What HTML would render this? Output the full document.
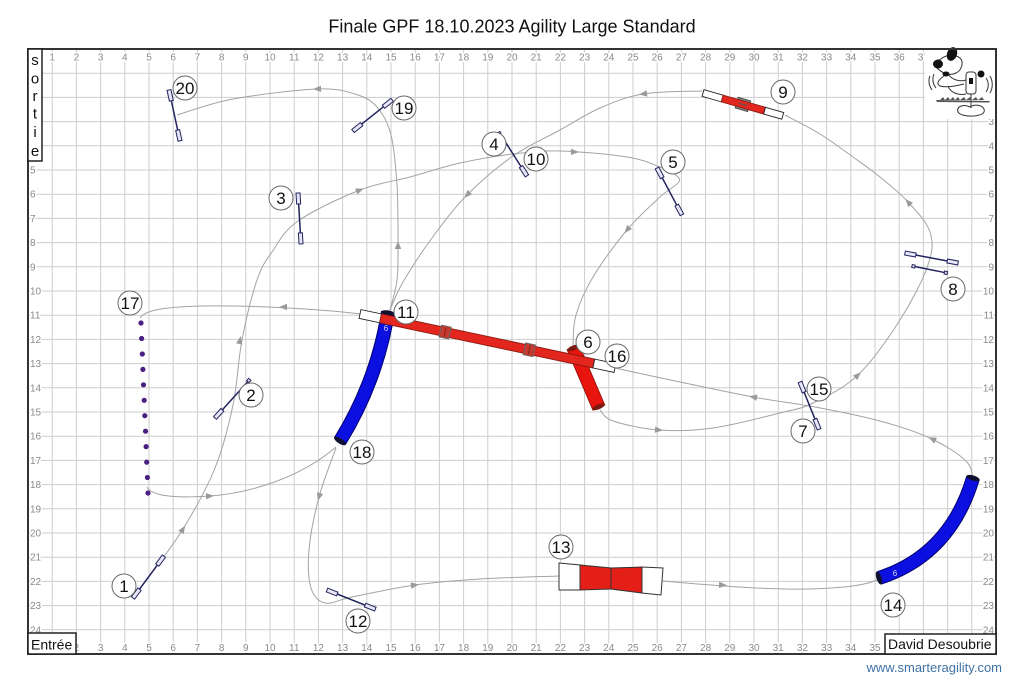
<!DOCTYPE html>
<html><head><meta charset="utf-8">
<style>
html,body{margin:0;padding:0;background:#fff;}
svg{display:block;}
.lbl{font-family:"Liberation Sans",Arial,sans-serif;font-size:10px;fill:#8a8a8a;stroke:#fff;stroke-width:3px;paint-order:stroke;}
.p{fill:none;stroke:#a3a3a3;stroke-width:1;}
.ar{fill:#9a9a9a;}
.j line{stroke:#23235f;stroke-width:1.5;}
.j rect{fill:#e6e6f6;stroke:#23235f;stroke-width:1;}
.c circle{fill:#fff;stroke:#6a6a6a;stroke-width:1;}
.c text{font-family:"Liberation Sans",Arial,sans-serif;font-size:17px;fill:#111;text-anchor:middle;}
.t{font-family:"Liberation Sans",Arial,sans-serif;}
</style></head>
<body>
<svg width="1024" height="694" viewBox="0 0 1024 694" xmlns="http://www.w3.org/2000/svg">
<rect width="1024" height="694" fill="#fff"/>
<!-- grid -->
<g stroke="#cdcdcd" stroke-width="1">
<line x1="52.2" y1="49" x2="52.2" y2="654"/><line x1="76.4" y1="49" x2="76.4" y2="654"/><line x1="100.6" y1="49" x2="100.6" y2="654"/><line x1="124.8" y1="49" x2="124.8" y2="654"/><line x1="149" y1="49" x2="149" y2="654"/><line x1="173.2" y1="49" x2="173.2" y2="654"/><line x1="197.4" y1="49" x2="197.4" y2="654"/><line x1="221.6" y1="49" x2="221.6" y2="654"/><line x1="245.8" y1="49" x2="245.8" y2="654"/><line x1="270" y1="49" x2="270" y2="654"/><line x1="294.2" y1="49" x2="294.2" y2="654"/><line x1="318.4" y1="49" x2="318.4" y2="654"/><line x1="342.6" y1="49" x2="342.6" y2="654"/><line x1="366.8" y1="49" x2="366.8" y2="654"/><line x1="391" y1="49" x2="391" y2="654"/><line x1="415.2" y1="49" x2="415.2" y2="654"/><line x1="439.4" y1="49" x2="439.4" y2="654"/><line x1="463.6" y1="49" x2="463.6" y2="654"/><line x1="487.8" y1="49" x2="487.8" y2="654"/><line x1="512" y1="49" x2="512" y2="654"/><line x1="536.2" y1="49" x2="536.2" y2="654"/><line x1="560.4" y1="49" x2="560.4" y2="654"/><line x1="584.6" y1="49" x2="584.6" y2="654"/><line x1="608.8" y1="49" x2="608.8" y2="654"/><line x1="633" y1="49" x2="633" y2="654"/><line x1="657.2" y1="49" x2="657.2" y2="654"/><line x1="681.4" y1="49" x2="681.4" y2="654"/><line x1="705.6" y1="49" x2="705.6" y2="654"/><line x1="729.8" y1="49" x2="729.8" y2="654"/><line x1="754" y1="49" x2="754" y2="654"/><line x1="778.2" y1="49" x2="778.2" y2="654"/><line x1="802.4" y1="49" x2="802.4" y2="654"/><line x1="826.6" y1="49" x2="826.6" y2="654"/><line x1="850.8" y1="49" x2="850.8" y2="654"/><line x1="875" y1="49" x2="875" y2="654"/><line x1="899.2" y1="49" x2="899.2" y2="654"/><line x1="923.4" y1="49" x2="923.4" y2="654"/><line x1="947.6" y1="49" x2="947.6" y2="654"/><line x1="971.8" y1="49" x2="971.8" y2="654"/>
<line x1="28" y1="73.2" x2="996" y2="73.2"/><line x1="28" y1="97.4" x2="996" y2="97.4"/><line x1="28" y1="121.6" x2="996" y2="121.6"/><line x1="28" y1="145.8" x2="996" y2="145.8"/><line x1="28" y1="170" x2="996" y2="170"/><line x1="28" y1="194.2" x2="996" y2="194.2"/><line x1="28" y1="218.4" x2="996" y2="218.4"/><line x1="28" y1="242.6" x2="996" y2="242.6"/><line x1="28" y1="266.8" x2="996" y2="266.8"/><line x1="28" y1="291" x2="996" y2="291"/><line x1="28" y1="315.2" x2="996" y2="315.2"/><line x1="28" y1="339.4" x2="996" y2="339.4"/><line x1="28" y1="363.6" x2="996" y2="363.6"/><line x1="28" y1="387.8" x2="996" y2="387.8"/><line x1="28" y1="412" x2="996" y2="412"/><line x1="28" y1="436.2" x2="996" y2="436.2"/><line x1="28" y1="460.4" x2="996" y2="460.4"/><line x1="28" y1="484.6" x2="996" y2="484.6"/><line x1="28" y1="508.8" x2="996" y2="508.8"/><line x1="28" y1="533" x2="996" y2="533"/><line x1="28" y1="557.2" x2="996" y2="557.2"/><line x1="28" y1="581.4" x2="996" y2="581.4"/><line x1="28" y1="605.6" x2="996" y2="605.6"/><line x1="28" y1="629.8" x2="996" y2="629.8"/>
</g>
<!-- top labels -->
<g class="lbl" text-anchor="middle">
<text x="52.2" y="60.5">1</text><text x="76.4" y="60.5">2</text><text x="100.6" y="60.5">3</text><text x="124.8" y="60.5">4</text><text x="149" y="60.5">5</text><text x="173.2" y="60.5">6</text><text x="197.4" y="60.5">7</text><text x="221.6" y="60.5">8</text><text x="245.8" y="60.5">9</text><text x="270" y="60.5">10</text><text x="294.2" y="60.5">11</text><text x="318.4" y="60.5">12</text><text x="342.6" y="60.5">13</text><text x="366.8" y="60.5">14</text><text x="391" y="60.5">15</text><text x="415.2" y="60.5">16</text><text x="439.4" y="60.5">17</text><text x="463.6" y="60.5">18</text><text x="487.8" y="60.5">19</text><text x="512" y="60.5">20</text><text x="536.2" y="60.5">21</text><text x="560.4" y="60.5">22</text><text x="584.6" y="60.5">23</text><text x="608.8" y="60.5">24</text><text x="633" y="60.5">25</text><text x="657.2" y="60.5">26</text><text x="681.4" y="60.5">27</text><text x="705.6" y="60.5">28</text><text x="729.8" y="60.5">29</text><text x="754" y="60.5">30</text><text x="778.2" y="60.5">31</text><text x="802.4" y="60.5">32</text><text x="826.6" y="60.5">33</text><text x="850.8" y="60.5">34</text><text x="875" y="60.5">35</text><text x="899.2" y="60.5">36</text><text x="923.4" y="60.5">37</text>
</g>
<!-- bottom labels -->
<g class="lbl" text-anchor="middle">
<text x="52.2" y="651">1</text><text x="76.4" y="651">2</text><text x="100.6" y="651">3</text><text x="124.8" y="651">4</text><text x="149" y="651">5</text><text x="173.2" y="651">6</text><text x="197.4" y="651">7</text><text x="221.6" y="651">8</text><text x="245.8" y="651">9</text><text x="270" y="651">10</text><text x="294.2" y="651">11</text><text x="318.4" y="651">12</text><text x="342.6" y="651">13</text><text x="366.8" y="651">14</text><text x="391" y="651">15</text><text x="415.2" y="651">16</text><text x="439.4" y="651">17</text><text x="463.6" y="651">18</text><text x="487.8" y="651">19</text><text x="512" y="651">20</text><text x="536.2" y="651">21</text><text x="560.4" y="651">22</text><text x="584.6" y="651">23</text><text x="608.8" y="651">24</text><text x="633" y="651">25</text><text x="657.2" y="651">26</text><text x="681.4" y="651">27</text><text x="705.6" y="651">28</text><text x="729.8" y="651">29</text><text x="754" y="651">30</text><text x="778.2" y="651">31</text><text x="802.4" y="651">32</text><text x="826.6" y="651">33</text><text x="850.8" y="651">34</text><text x="875" y="651">35</text><text x="899.2" y="651">36</text>
</g>
<!-- left labels -->
<g class="lbl" text-anchor="start">
<text x="30" y="76.7">1</text><text x="30" y="100.9">2</text><text x="30" y="125.1">3</text><text x="30" y="149.3">4</text><text x="30" y="173.5">5</text><text x="30" y="197.7">6</text><text x="30" y="221.9">7</text><text x="30" y="246.1">8</text><text x="30" y="270.3">9</text><text x="30" y="294.5">10</text><text x="30" y="318.7">11</text><text x="30" y="342.9">12</text><text x="30" y="367.1">13</text><text x="30" y="391.3">14</text><text x="30" y="415.5">15</text><text x="30" y="439.7">16</text><text x="30" y="463.9">17</text><text x="30" y="488.1">18</text><text x="30" y="512.3">19</text><text x="30" y="536.5">20</text><text x="30" y="560.7">21</text><text x="30" y="584.9">22</text><text x="30" y="609.1">23</text><text x="30" y="633.3">24</text>
</g>
<!-- right labels -->
<g class="lbl" text-anchor="end">
<text x="994" y="76.7">1</text><text x="994" y="100.9">2</text><text x="994" y="125.1">3</text><text x="994" y="149.3">4</text><text x="994" y="173.5">5</text><text x="994" y="197.7">6</text><text x="994" y="221.9">7</text><text x="994" y="246.1">8</text><text x="994" y="270.3">9</text><text x="994" y="294.5">10</text><text x="994" y="318.7">11</text><text x="994" y="342.9">12</text><text x="994" y="367.1">13</text><text x="994" y="391.3">14</text><text x="994" y="415.5">15</text><text x="994" y="439.7">16</text><text x="994" y="463.9">17</text><text x="994" y="488.1">18</text><text x="994" y="512.3">19</text><text x="994" y="536.5">20</text><text x="994" y="560.7">21</text><text x="994" y="584.9">22</text><text x="994" y="609.1">23</text><text x="994" y="633.3">24</text>
</g>

<!-- dog area -->
<rect x="925" y="50" width="70" height="69" fill="#fff"/>
<g fill="none" stroke="#333" stroke-width="1">
<path d="M935,66 C940,56 952,52 960,58 C964,62 962,70 956,73 C950,76 942,74 935,66 Z" fill="#fff"/>
<path d="M948,74 C952,80 960,82 966,80 M944,76 C938,80 936,84 940,86 C946,88 956,86 964,84"/>
<path d="M930,76 C928,80 929,86 932,90 M934,74 C932,79 933,84 936,88 M986,78 C989,82 989,88 986,92 M990,76 C993,81 993,88 990,93"/>
<rect x="966" y="72" width="10" height="22" rx="3" fill="#fff"/>
<path d="M971,94 L971,108"/>
<path d="M958,112 C956,106 964,104 970,107 C976,103 986,106 984,112 C982,117 962,118 958,112 Z"/>
<path d="M948,86 C950,92 958,96 966,94"/>
</g>
<g fill="#111">
<ellipse cx="938" cy="64" rx="5" ry="4.5"/>
<ellipse cx="952" cy="54" rx="5" ry="7" transform="rotate(20 952 54)"/>
<ellipse cx="946" cy="74" rx="3.5" ry="2.5"/>
<circle cx="981" cy="74" r="3.5"/>
<rect x="969" y="78" width="4" height="6"/>
</g>
<g fill="#555">
<path d="M936,100 L990,101 L989,102.5 L937,102 Z"/>
<path d="M940,100 l3,-3 l2,3 l3,-3 l2,3 l3,-3 l2,3 l3,-3 l2,3 l4,-3 l2,3 l4,-3 l2,3 l4,-3 l2,3 l4,-3 l2,3 z"/>
</g>

<!-- paths -->
<g class="p">
<path d="M148,578 C153.8,569.8 171.8,547.3 183,529 C194.2,510.7 206.7,488.7 215,468 C223.3,447.3 228.5,426.3 233,405 C237.5,383.7 238,360.8 242,340 C246,319.2 252,294.7 257,280 C262,265.3 265.2,261.8 272,252 C278.8,242.2 283.3,231.3 298,221 C312.7,210.7 341.3,197.3 360,190 C378.7,182.7 393.3,181.5 410,177 C426.7,172.5 442.8,166.8 460,163 C477.2,159.2 496.3,156 513,154 C529.7,152 541,150.5 560,151 C579,151.5 610.3,154.3 627,157 C643.7,159.7 651.7,163.8 660,167 C668.3,170.2 674,173.3 677,176 C680,178.7 680.8,179.5 678,183 C675.2,186.5 668.5,189.2 660,197 C651.5,204.8 638.2,216.7 627,230 C615.8,243.3 601.5,262.8 593,277 C584.5,291.2 579.3,303.7 576,315 C572.7,326.3 573.5,340 573,345"/>
<path d="M600,410 C602.2,411.8 603.2,417.7 613,421 C622.8,424.3 642.3,428.8 659,430 C675.7,431.2 692.8,430.8 713,428 C733.2,425.2 763.3,417.2 780,413 C796.7,408.8 800,409.3 813,403 C826,396.7 843.5,388.8 858,375 C872.5,361.2 888.3,338.3 900,320 C911.7,301.7 923,279.7 928,265 C933,250.3 933.3,242.5 930,232 C926.7,221.5 916.3,211.2 908,202 C899.7,192.8 889.2,184.5 880,177 C870.8,169.5 863,164.2 853,157 C843,149.8 831.3,141 820,134 C808.7,127 790.8,118.2 785,115"/>
<path d="M702,91 C692.2,91.5 660,91.2 643,94 C626,96.8 613.8,102 600,108 C586.2,114 574.5,122 560,130 C545.5,138 528.5,145.2 513,156 C497.5,166.8 480.5,181.3 467,195 C453.5,208.7 442.7,223.5 432,238 C421.3,252.5 410,270 403,282 C396,294 392.2,305.3 390,310"/>
<path d="M336,448 C333.2,456.2 323.5,480 319,497 C314.5,514 310.3,534.8 309,550 C307.7,565.2 308.3,579.2 311,588 C313.7,596.8 318.2,601.5 325,603 C331.8,604.5 337,600 352,597 C367,594 393.7,588 415,585 C436.3,582 456,580.5 480,579 C504,577.5 545.8,576.5 559,576"/>
<path d="M663,581 C700,584 760,590 810,589 C840,588 865,586 879,579"/>
<path d="M973,479 C971.8,476 972.8,467.7 966,461 C959.2,454.3 946.3,445.7 932,439 C917.7,432.3 899.5,426.3 880,421 C860.5,415.7 836.2,411 815,407 C793.8,403 775.5,401.2 753,397 C730.5,392.8 703,386.8 680,382 C657,377.2 625.8,370.3 615,368"/>
<path d="M360,314 C320,309 250,305 200,306 C165,307 145,310 140,318"/>
<path d="M147,487 C152,497 180,498 210,496 C250,493 300,478 336,447"/>
<path d="M390,310 C391.2,305 395.7,290.8 397,280 C398.3,269.2 398,260.8 398,245 C398,229.2 398.2,203.3 397,185 C395.8,166.7 394.3,148 391,135 C387.7,122 383,113.8 377,107 C371,100.2 365,97 355,94 C345,91 337.3,88.2 317,89 C296.7,89.8 256.3,94.7 233,99 C209.7,103.3 186.3,112.3 177,115"/>
</g>
<!-- arrows -->
<g class="ar">
<polygon points="-4,-3.2 4,0 -4,3.2" transform="translate(183,529) rotate(-58)"/>
<polygon points="-4,-3.2 4,0 -4,3.2" transform="translate(240,340) rotate(-80)"/>
<polygon points="-4,-3.2 4,0 -4,3.2" transform="translate(360,190) rotate(-21)"/>
<polygon points="-4,-3.2 4,0 -4,3.2" transform="translate(575,152) rotate(2)"/>
<polygon points="-4,-3.2 4,0 -4,3.2" transform="translate(627,230) rotate(130)"/>
<polygon points="-4,-3.2 4,0 -4,3.2" transform="translate(659,430) rotate(4)"/>
<polygon points="-4,-3.2 4,0 -4,3.2" transform="translate(858,375) rotate(-44)"/>
<polygon points="-4,-3.2 4,0 -4,3.2" transform="translate(908,202) rotate(-132)"/>
<polygon points="-4,-3.2 4,0 -4,3.2" transform="translate(643,94) rotate(172)"/>
<polygon points="-4,-3.2 4,0 -4,3.2" transform="translate(467,195) rotate(135)"/>
<polygon points="-4,-3.2 4,0 -4,3.2" transform="translate(319,497) rotate(105)"/>
<polygon points="-4,-3.2 4,0 -4,3.2" transform="translate(415,585) rotate(-8)"/>
<polygon points="-4,-3.2 4,0 -4,3.2" transform="translate(723,585) rotate(3)"/>
<polygon points="-4,-3.2 4,0 -4,3.2" transform="translate(932,439) rotate(205)"/>
<polygon points="-4,-3.2 4,0 -4,3.2" transform="translate(753,397) rotate(190)"/>
<polygon points="-4,-3.2 4,0 -4,3.2" transform="translate(283,307) rotate(180)"/>
<polygon points="-4,-3.2 4,0 -4,3.2" transform="translate(210,496) rotate(-2)"/>
<polygon points="-4,-3.2 4,0 -4,3.2" transform="translate(398,245) rotate(-90)"/>
<polygon points="-4,-3.2 4,0 -4,3.2" transform="translate(317,89) rotate(178)"/>
</g>

<!-- blue tunnels -->
<path d="M388,312 Q377,381 340,441" fill="none" stroke="#00006e" stroke-width="14"/>
<path d="M388,312 Q377,381 340,441" fill="none" stroke="#0b0fe0" stroke-width="12"/>
<ellipse cx="388" cy="313" rx="6.8" ry="2.6" fill="#101030" transform="rotate(9 388 313)"/>
<ellipse cx="340" cy="441" rx="6.8" ry="2.6" fill="#101030" transform="rotate(32 340 441)"/>
<text x="386" y="331" class="t" font-size="8" fill="#dde" text-anchor="middle">6</text>

<path d="M879,578 Q950,555 973,478" fill="none" stroke="#00006e" stroke-width="14"/>
<path d="M879,578 Q950,555 973,478" fill="none" stroke="#0b0fe0" stroke-width="12"/>
<ellipse cx="879" cy="578" rx="6.8" ry="2.6" fill="#101030" transform="rotate(72 879 578)"/>
<ellipse cx="973" cy="478" rx="6.8" ry="2.6" fill="#101030" transform="rotate(17 973 478)"/>
<text x="895" y="576" class="t" font-size="8" fill="#dde" text-anchor="middle">6</text>

<!-- red tube 6 -->
<g transform="translate(573,347) rotate(66.9)">
<rect x="0" y="-6.5" width="66" height="13" fill="#e8150f" stroke="#8a0d08" stroke-width="0.8"/>
<ellipse cx="1" cy="0" rx="2.5" ry="6.5" fill="#7a1a10"/>
<ellipse cx="65" cy="0" rx="2.5" ry="6.5" fill="#7a1a10"/>
</g>

<!-- dog walk -->
<g transform="translate(360,314) rotate(11.96)" stroke-width="0.9">
<rect x="0" y="-4.5" width="21" height="9" fill="#fff" stroke="#222"/>
<rect x="21" y="-4.5" width="218" height="9" fill="#e3261e" stroke="#8a1a12"/>
<rect x="239" y="-4.5" width="21.6" height="9" fill="#fff" stroke="#222"/>
<rect x="82" y="-6" width="10" height="12" fill="#c23a30" stroke="#666"/>
<rect x="168" y="-6" width="10" height="12" fill="#c23a30" stroke="#666"/>
<line x1="87" y1="-4.5" x2="87" y2="4.5" stroke="#8a1a12"/>
<line x1="173" y1="-4.5" x2="173" y2="4.5" stroke="#8a1a12"/>
</g>

<!-- seesaw 9 -->
<g transform="translate(703,93) rotate(16)" stroke-width="0.9">
<rect x="35" y="-5.5" width="13" height="11" fill="#888" stroke="#444"/>
<rect x="0" y="-3.5" width="20" height="7" fill="#fff" stroke="#222"/>
<rect x="20" y="-3.5" width="44" height="7" fill="#e3261e" stroke="#8a1a12"/>
<rect x="64" y="-3.5" width="19" height="7" fill="#fff" stroke="#222"/>
<line x1="37" y1="0" x2="46" y2="0" stroke="#555" stroke-width="1.2"/>
</g>

<!-- item 13 -->
<g stroke="#333" stroke-width="1">
<polygon points="559,563 580,565 580,590 559,590" fill="#fff"/>
<polygon points="580,565 611,568 611,589 580,590" fill="#e41f18"/>
<polygon points="611,568 642,567 642,593 611,589" fill="#e41f18"/>
<polygon points="642,567 663,568 661,595 642,593" fill="#fff"/>
</g>

<!-- jumps -->
<g class="j">
<g transform="translate(169,90) rotate(77.8)"><line x2="52"/><rect x="0" y="-2" width="11" height="4"/><rect x="41" y="-2" width="11" height="4"/></g>
<g transform="translate(353,131) rotate(-38.5)"><line x2="50"/><rect x="0" y="-2" width="11" height="4"/><rect x="39" y="-2" width="11" height="4"/></g>
<g transform="translate(298,193) rotate(86.6)"><line x2="51"/><rect x="0" y="-2" width="11" height="4"/><rect x="40" y="-2" width="11" height="4"/></g>
<g transform="translate(499,132) rotate(57.5)"><line x2="52"/><rect x="0" y="-1" width="2" height="2"/><rect x="41" y="-2" width="11" height="4"/></g>
<g transform="translate(657,168) rotate(62)"><line x2="53"/><rect x="0" y="-2" width="11" height="4"/><rect x="42" y="-2" width="11" height="4"/></g>
<g transform="translate(215,418) rotate(-48)"><line x2="52"/><rect x="0" y="-2" width="11" height="4"/><rect x="49" y="-1.5" width="3" height="3"/></g>
<g transform="translate(800,382) rotate(68)"><line x2="51"/><rect x="0" y="-2" width="11" height="4"/><rect x="40" y="-2" width="11" height="4"/></g>
<g transform="translate(133,598) rotate(-53.6)"><line x2="52"/><rect x="0" y="-2" width="11" height="4"/><rect x="41" y="-2" width="11" height="4"/></g>
<g transform="translate(327,590) rotate(21.6)"><line x2="52"/><rect x="0" y="-2" width="11" height="4"/><rect x="41" y="-2" width="11" height="4"/></g>
<g transform="translate(905,253) rotate(10.7)"><line x2="54"/><rect x="0" y="-2" width="11" height="4"/><rect x="43" y="-2" width="11" height="4"/></g>
<g transform="translate(912,266) rotate(11.3)"><line x2="36"/><rect x="0" y="-1.5" width="3" height="3"/><rect x="33" y="-1.5" width="3" height="3"/></g>
</g>

<!-- weave poles -->
<g fill="#4a1f82">
<circle cx="141" cy="323" r="2.6"/><circle cx="141.6" cy="338.5" r="2.6"/><circle cx="142.3" cy="354" r="2.6"/><circle cx="142.9" cy="369.4" r="2.6"/><circle cx="143.5" cy="384.8" r="2.6"/><circle cx="144.2" cy="400.3" r="2.6"/><circle cx="144.8" cy="415.7" r="2.6"/><circle cx="145.5" cy="431.2" r="2.6"/><circle cx="146.1" cy="446.6" r="2.6"/><circle cx="146.7" cy="462.1" r="2.6"/><circle cx="147.4" cy="477.5" r="2.6"/><circle cx="148" cy="493" r="2.6"/>
</g>

<!-- number circles -->
<g class="c">
<circle cx="124" cy="586" r="12"/><text x="124" y="592">1</text>
<circle cx="251" cy="395" r="12"/><text x="251" y="401">2</text>
<circle cx="281" cy="198" r="12"/><text x="281" y="204">3</text>
<circle cx="494" cy="144" r="12"/><text x="494" y="150">4</text>
<circle cx="673" cy="162" r="12"/><text x="673" y="168">5</text>
<circle cx="588" cy="342" r="12"/><text x="588" y="348">6</text>
<circle cx="803" cy="431" r="12"/><text x="803" y="437">7</text>
<circle cx="953" cy="289" r="12"/><text x="953" y="295">8</text>
<circle cx="783" cy="92" r="12"/><text x="783" y="98">9</text>
<circle cx="536" cy="159" r="12"/><text x="536" y="165">10</text>
<circle cx="406" cy="312" r="12"/><text x="406" y="318">11</text>
<circle cx="358" cy="621" r="12"/><text x="358" y="627">12</text>
<circle cx="561" cy="547" r="12"/><text x="561" y="553">13</text>
<circle cx="893" cy="605" r="12"/><text x="893" y="611">14</text>
<circle cx="819" cy="389" r="12"/><text x="819" y="395">15</text>
<circle cx="617" cy="356" r="12"/><text x="617" y="362">16</text>
<circle cx="130" cy="303" r="12"/><text x="130" y="309">17</text>
<circle cx="362" cy="452" r="12"/><text x="362" y="458">18</text>
<circle cx="404" cy="108" r="12"/><text x="404" y="114">19</text>
<circle cx="185" cy="88" r="12"/><text x="185" y="94">20</text>
</g>

<!-- border -->
<rect x="28" y="49" width="968" height="605" fill="none" stroke="#333" stroke-width="2"/>

<!-- sortie box -->
<rect x="28" y="49" width="14" height="112" fill="#fff" stroke="#222" stroke-width="1.5"/>
<g class="t" font-size="15" fill="#111" text-anchor="middle">
<text x="35" y="65">s</text><text x="35" y="83.5">o</text><text x="35" y="101">r</text><text x="35" y="118.5">t</text><text x="35" y="137">i</text><text x="35" y="156">e</text>
</g>
<!-- entree box -->
<rect x="28" y="633" width="48" height="21" fill="#fff" stroke="#222" stroke-width="1.5"/>
<text x="31" y="649.5" class="t" font-size="14" fill="#111">Entrée</text>
<!-- author box -->
<rect x="885" y="634" width="111" height="20" fill="#fff" stroke="#222" stroke-width="1.5"/>
<text x="888" y="649" class="t" font-size="14" fill="#111">David Desoubrie</text>

<!-- title -->
<text x="512" y="32.5" class="t" font-size="18" fill="#111" text-anchor="middle">Finale GPF 18.10.2023 Agility Large Standard</text>
<!-- website -->
<text x="1002" y="672" class="t" font-size="13" fill="#3f72a6" text-anchor="end">www.smarteragility.com</text>
</svg>
</body></html>
